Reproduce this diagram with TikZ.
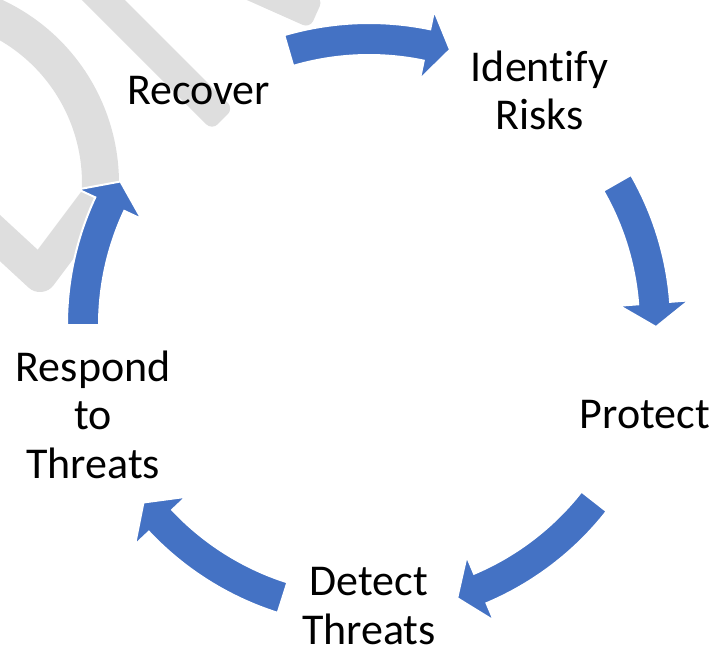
\documentclass[tikz,border=0pt]{standalone}
\usepackage{fontspec}
\setmainfont{Carlito}[Ligatures={NoCommon}]
\usepackage{tikz}
\usepackage{xcolor}
\usetikzlibrary{calc,positioning}
\definecolor{cycleblue}{RGB}{68,114,196}
\definecolor{shadegray}{RGB}{222,222,222}
\tikzset{%
	steptext/.style  = {align=center, text=black, inner sep=0pt, font=\fontsize{44}{48.3}\selectfont},
	cyclearrow/.style= {fill=cycleblue, draw=white, line width=2pt, line join=miter},
	band/.style      = {draw=shadegray, line width=36pt},
	bandend/.style   = {fill=shadegray, rounded corners=8pt},
}
% block arrow on the ring: tail angle, head angle, tip angle
\newcommand{\ringarrow}[3]{%
	\path[cyclearrow] (#1:302) arc[start angle=#1, end angle=#2, radius=302]
		-- (#2:321) -- (#3:287) -- (#2:251) -- (#2:270)
		arc[start angle=#2, end angle=#1, radius=270] -- cycle;}

\begin{document}
\begin{tikzpicture}[x=1pt,y=1pt]
		\useasboundingbox (-369,-332) rectangle (346,325);
		
		% grey shapes behind, top left
		\draw[band, line width=37pt] (-452,142) ++(100:183.5) arc[start angle=100, end angle=-12, radius=183.5];
		\draw[band, line width=34pt, line join=round] (-394,110) -- (-329,50) -- (-269,130);
		\fill[bandend, shift={(-146.25,205.75)}, rotate=135] (0,-15.2) rectangle (200,15.2);
		\fill[bandend, shift={(-52.5,311.5)}, rotate=156] (0,-16) rectangle (200,16);
		
		% the cycle
		\ringarrow{106.3}{78.3}{73.6}
		\ringarrow{29.8}{4.4}{-0.4}
		\ringarrow{-38.1}{-67.1}{-72.1}
		\ringarrow{-107.6}{-136.8}{-141.8}
		\ringarrow{180}{155}{150}
		
		\node[steptext] (identify) at (54:290) {Identify\\Risks};
		\node[steptext] (protect) at (-18:290) {Protect};
		\node[steptext] (detect) at (0,-281) {Detect\\Threats};
		\node[steptext] (respond) at (198:290) {Respond\\to\\Threats};
		\node[steptext] (recover) at (126:290) {Recover};
		
\end{tikzpicture}
\end{document}
